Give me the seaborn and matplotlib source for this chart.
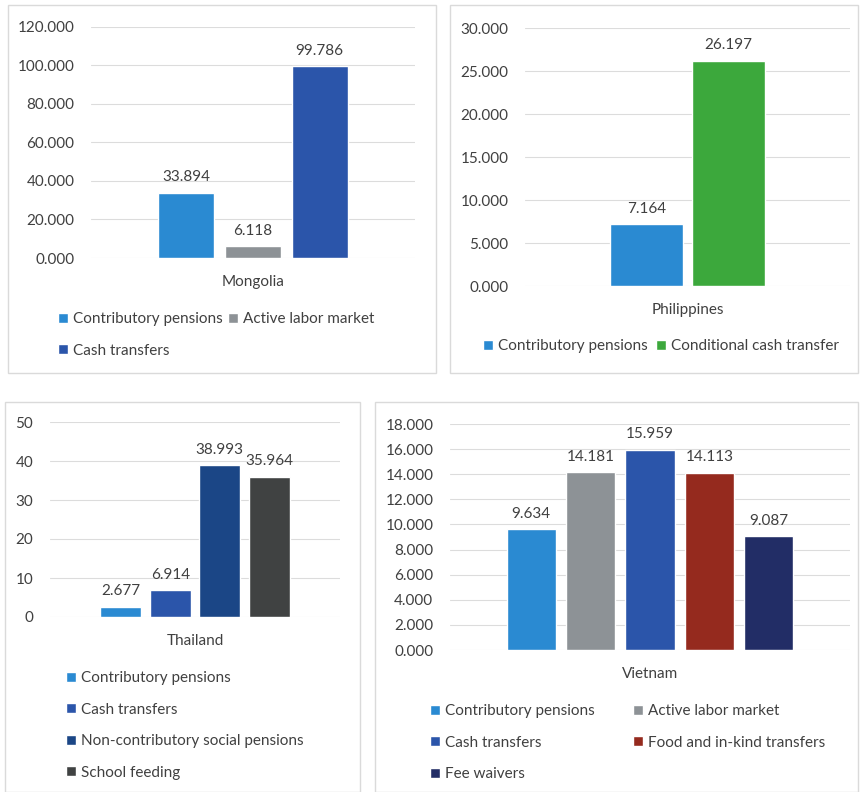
import pandas as pd; import numpy as np; import matplotlib.pyplot as plt; import seaborn as sns
from matplotlib.patches import Rectangle

# data
mn_series = ['Contributory pensions', 'Active labor market', 'Cash transfers']
mn_values = [33.894, 6.118, 99.786]
ph_series = ['Contributory pensions', 'Conditional cash transfer']
ph_values = [7.164, 26.197]
th_series = ['Contributory pensions', 'Cash transfers', 'Non-contributory social pensions', 'School feeding']
th_values = [2.677, 6.914, 38.993, 35.964]
vn_series = ['Contributory pensions', 'Active labor market', 'Cash transfers',
             'Food and in-kind transfers', 'Fee waivers']
vn_values = [9.634, 14.181, 15.959, 14.113, 9.087]

colors = {'Contributory pensions': '#2A8AD2', 'Active labor market': '#8D9296',
          'Cash transfers': '#2B55AA', 'Conditional cash transfer': '#3CA83C',
          'Non-contributory social pensions': '#1B4686', 'School feeding': '#404242',
          'Food and in-kind transfers': '#952A1E', 'Fee waivers': '#222D66'}

sns.set_theme(style='white')
plt.rcParams['font.family'] = ['Lato', 'DejaVu Sans']
TXT = '#404040'
FS = 11
W, H = 866, 792
fig = plt.figure(figsize=(W / 100, H / 100), dpi=100)


def px_axes(l, r, t, b):
    return fig.add_axes([l / W, 1 - b / H, (r - l) / W, (b - t) / H])


def panel(box, ax_px, country, series, values, ymax, step, fmt, gap, group_px,
          leg_xy, ncol, colsp):
    fig.add_artist(Rectangle((box[0] / W, 1 - box[3] / H), (box[1] - box[0]) / W,
                             (box[3] - box[2]) / H, transform=fig.transFigure,
                             fill=False, edgecolor='#DADADA', linewidth=1))
    ax = px_axes(*ax_px)
    df = pd.DataFrame({'country': country, 'series': series, 'value': values})
    sns.barplot(ax=ax, data=df, x='country', y='value', hue='series',
                palette=colors, saturation=1, width=0.8, gap=gap, legend=True)
    unit = group_px / 0.8
    half = (ax_px[1] - ax_px[0]) / 2 / unit
    ax.set_xlim(-half, half)
    ax.set_ylim(0, ymax)
    ax.set_yticks(np.arange(0, ymax + step / 2, step))
    ax.yaxis.set_major_formatter(plt.FuncFormatter(lambda v, p: fmt.format(v)))
    ax.grid(axis='y', color='#DCDCDC', linewidth=0.8)
    ax.set_axisbelow(True)
    for s in ax.spines.values():
        s.set_visible(False)
    ax.tick_params(axis='both', length=0, labelsize=FS, colors=TXT)
    ax.tick_params(axis='x', pad=12)
    ax.tick_params(axis='y', pad=12)
    ax.set_xlabel(''); ax.set_ylabel('')
    for c in ax.containers:
        ax.bar_label(c, fmt='%.3f', padding=6, fontsize=FS, color=TXT)
    h, l = ax.get_legend_handles_labels()
    ax.get_legend().remove()
    # legend reads row by row in the reference, matplotlib fills by column
    order = [i for c in range(ncol) for i in range(c, len(l), ncol)]
    fig.legend([h[i] for i in order], [l[i] for i in order], loc='upper left',
               bbox_to_anchor=(leg_xy[0] / W, 1 - leg_xy[1] / H),
               ncol=ncol, frameon=False, fontsize=FS, labelcolor=TXT,
               handlelength=0.65, handleheight=0.65, handletextpad=0.35,
               labelspacing=1.15, columnspacing=colsp, borderpad=0, borderaxespad=0)
    return ax


panel((8, 436, 5, 373), (91, 415, 27, 258), 'Mongolia', mn_series, mn_values,
      120, 20, '{:.3f}', 0.16, 200, (58, 312), 2, 0.3)
panel((450, 858, 5, 373), (525, 850, 28, 286), 'Philippines', ph_series, ph_values,
      30, 5, '{:.3f}', 0.12, 165, (483, 339), 2, 0.5)
panel((5, 360, 402, 792), (50, 340, 422, 617), 'Thailand', th_series, th_values,
      50, 10, '{:.0f}', 0.17, 198, (66, 671), 1, 0.5)
panel((375, 858, 402, 792), (450, 850, 424, 650), 'Vietnam', vn_series, vn_values,
      18, 2, '{:.3f}', 0.17, 297, (430, 704), 2, 2.5)

plt.savefig('out.png', dpi=100)
